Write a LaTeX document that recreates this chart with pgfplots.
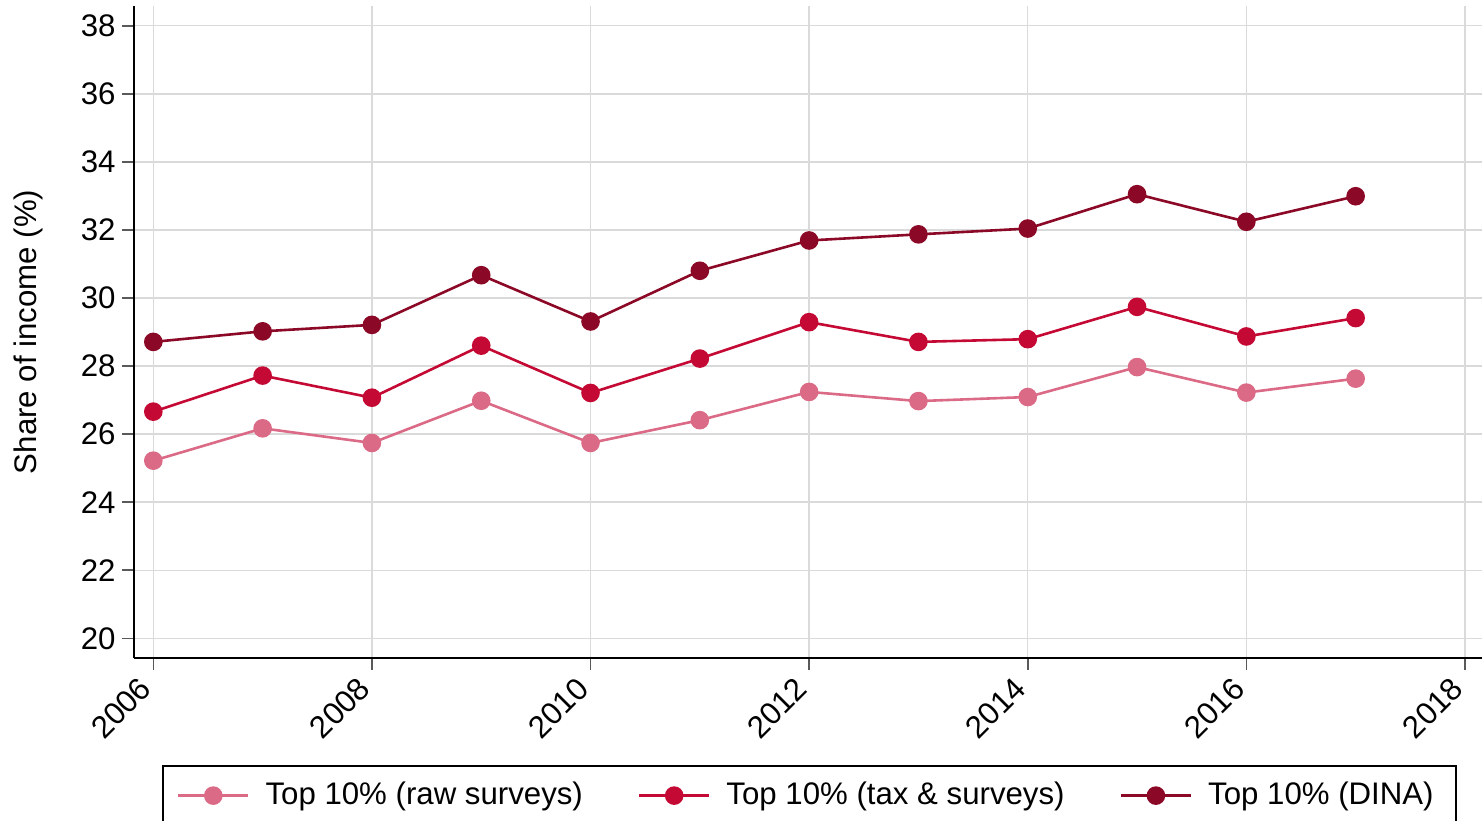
\documentclass[border=0pt]{standalone}
\usepackage{fontspec}
\setmainfont{Liberation Sans}
\usepackage{pgfplots}
\pgfplotsset{compat=1.18}
\definecolor{c1}{RGB}{219,106,134}
\definecolor{c2}{RGB}{196,10,52}
\definecolor{c3}{RGB}{139,8,38}
\definecolor{gridc}{RGB}{218,218,218}
\newcommand{\fs}{\fontsize{15.6}{18.7}\selectfont}
\begin{document}
\fs
\begin{tikzpicture}
\begin{axis}[
 at={(0,0)}, anchor=south west,
 scale only axis, width=673.85pt, height=325.85pt,
 xmin=2005.826, xmax=2018.156, ymin=19.43, ymax=38.58,
 axis x line*=bottom, axis y line*=left,
 axis line style={black, line width=1pt},
 xtick={2006,2008,...,2018}, ytick={20,22,...,38},
 tick align=outside, major tick length=6pt,
 tick style={color=black!65, line width=0.8pt},
 grid=major, major grid style={gridc, line width=0.7pt},
 tick label style={font=\fs},
 /pgf/number format/.cd, 1000 sep={}, assume math mode=true, /pgfplots/.cd,
 xticklabel style={rotate=45, anchor=east},
 xticklabel shift=3pt,
 yticklabel style={xshift=2pt},
 ylabel={Share of income (\%)},
 ylabel style={font=\fs, at={(axis description cs:-0.0789,0.5)}, anchor=center},
 legend columns=3,
 legend style={at={(axis description cs:0.02055,-0.1646)}, anchor=north west,
   draw=black, line width=1pt, font=\fs,
   inner xsep=7pt, inner ysep=6pt,
   nodes={inner xsep=0pt},
   /tikz/every odd column/.append style={column sep=8pt},
   /tikz/every even column/.append style={column sep=27.5pt}},
 legend image code/.code={\draw[mark repeat=2,mark phase=2,#1] plot coordinates {(0pt,0pt)(17.5pt,0pt)(35pt,0pt)};},
]
\addplot[c1, line width=1.3pt, mark=*, mark size=4pt, mark options={solid, fill=c1, draw=c1}] coordinates {
(2006,25.22) (2007,26.17) (2008,25.74) (2009,26.98) (2010,25.74) (2011,26.41)
(2012,27.24) (2013,26.97) (2014,27.09) (2015,27.97) (2016,27.22) (2017,27.63)};
\addlegendentry{Top 10\% (raw surveys)}
\addplot[c2, line width=1.3pt, mark=*, mark size=4pt, mark options={solid, fill=c2, draw=c2}] coordinates {
(2006,26.66) (2007,27.72) (2008,27.07) (2009,28.60) (2010,27.21) (2011,28.22)
(2012,29.29) (2013,28.71) (2014,28.79) (2015,29.74) (2016,28.87) (2017,29.41)};
\addlegendentry{Top 10\% (tax \& surveys)}
\addplot[c3, line width=1.3pt, mark=*, mark size=4pt, mark options={solid, fill=c3, draw=c3}] coordinates {
(2006,28.71) (2007,29.02) (2008,29.21) (2009,30.67) (2010,29.31) (2011,30.80)
(2012,31.69) (2013,31.87) (2014,32.04) (2015,33.05) (2016,32.24) (2017,32.99)};
\addlegendentry{Top 10\% (DINA)\kern4pt\null}
\end{axis}
\pgfresetboundingbox
\useasboundingbox (-67.15pt,-81.15pt) rectangle (673.85pt,328.85pt);
\end{tikzpicture}
\end{document}
